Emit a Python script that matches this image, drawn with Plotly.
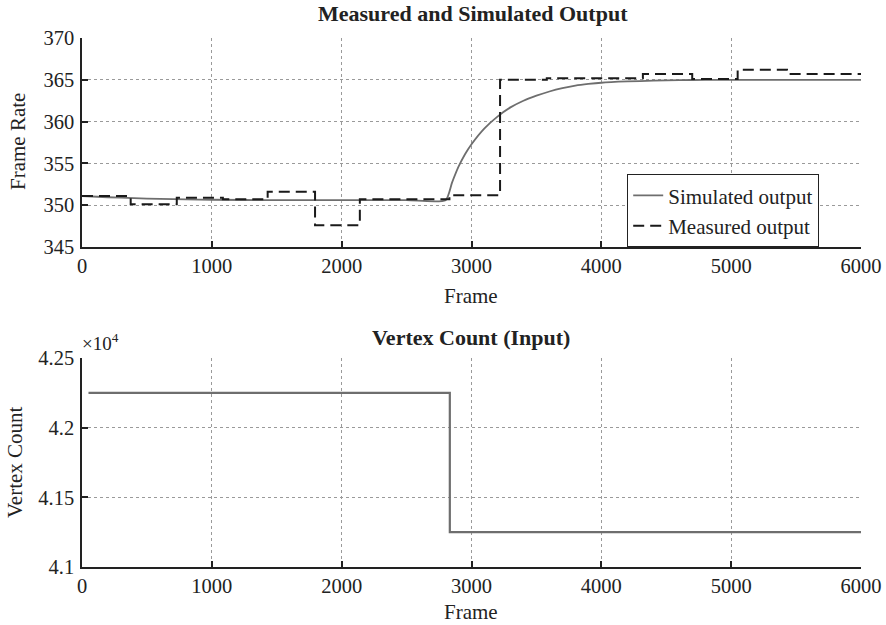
import plotly.graph_objects as go

# Measured frame rate: piecewise-constant samples (frame at which each level starts)
meas_frames = [0, 375, 730, 1085, 1430, 1795, 2140, 2830, 3220, 3580, 4320, 4700, 5050, 5430, 6000]
meas_rate = [351.1, 350.1, 350.9, 350.7, 351.6, 347.6, 350.7, 351.2, 365.0, 365.2, 365.7, 365.1, 366.2, 365.7, 365.7]

# Simulated model output
sim_frames = [0, 200, 400, 600, 800, 1000, 1500, 2000, 2500, 2800, 2850, 2900, 2950, 3000,
              3100, 3200, 3300, 3400, 3500, 3600, 3700, 3800, 3900, 4000, 4200, 4400,
              4600, 4800, 5000, 5500, 6000]
sim_rate = [351.1, 350.95, 350.85, 350.75, 350.7, 350.65, 350.6, 350.6, 350.6, 350.6, 352.7, 354.6,
            356.1, 357.3, 359.2, 360.6, 361.7, 362.5, 363.1, 363.6, 364.0, 364.3, 364.5, 364.65,
            364.8, 364.9, 364.95, 365.0, 365.0, 365.0, 365.0]

# Input: vertex count per frame
vert_frames = [50, 2833, 6000]
vert_count = [42250, 41250, 41250]

x_ticks = [0, 1000, 2000, 3000, 4000, 5000, 6000]
top_y_ticks = [345, 350, 355, 360, 365, 370]
bot_y_ticks = [41000, 41500, 42000, 42500]
bot_y_text = ["4.1", "4.15", "4.2", "4.25"]

FONT = "Liberation Serif"
W, H = 886, 625
ML, MR = 82, 25
PW = W - ML - MR


def px_x(px):
    return (px - ML) / PW


def px_y(py):
    return 1 - py / H


fig = go.Figure()
fig.add_trace(go.Scatter(x=sim_frames, y=sim_rate, mode="lines", name="Simulated output",
                         line=dict(color="#6e6e6e", width=1.8, shape="spline", smoothing=0.6),
                         xaxis="x", yaxis="y"))
fig.add_trace(go.Scatter(x=meas_frames, y=meas_rate, mode="lines", name="Measured output",
                         line=dict(color="#1a1a1a", width=2, dash="11px,6px", shape="hv"),
                         xaxis="x", yaxis="y"))
fig.add_trace(go.Scatter(x=vert_frames, y=vert_count, mode="lines", showlegend=False,
                         line=dict(color="#6e6e6e", width=2.2, shape="hv"),
                         xaxis="x2", yaxis="y2"))

axis_common = dict(
    showline=True, linecolor="#222", linewidth=1.5, mirror=False, automargin=False,
    ticks="inside", ticklen=6, tickcolor="#222", tickwidth=1.5,
    showgrid=True, gridcolor="#9a9a9a", griddash="dot", gridwidth=1,
    zeroline=False, tickfont=dict(family=FONT, size=20.5, color="#222"),
)

fig.update_layout(
    width=W, height=H,
    margin=dict(l=ML, r=MR, t=0, b=0),
    paper_bgcolor="white", plot_bgcolor="white",
    font=dict(family=FONT, color="#222"),
    xaxis=dict(domain=[0, 1], range=[0, 6000], tickvals=x_ticks, anchor="y", **axis_common),
    yaxis=dict(domain=[px_y(247), px_y(38)], range=[345, 370], tickvals=top_y_ticks, anchor="x",
               ticklabelstandoff=2, **axis_common),
    xaxis2=dict(domain=[0, 1], range=[0, 6000], tickvals=x_ticks, anchor="y2", **axis_common),
    yaxis2=dict(domain=[px_y(567), px_y(358)], range=[41000, 42500], tickvals=bot_y_ticks,
                ticktext=bot_y_text, anchor="x2", ticklabelstandoff=2, **axis_common),
    legend=dict(x=px_x(627), y=px_y(174), xanchor="left", yanchor="top",
                bgcolor="white", bordercolor="#222", borderwidth=1.2,
                font=dict(family=FONT, size=21, color="#222"),
                tracegroupgap=0, itemwidth=30),
    showlegend=True,
)

ann = [
    dict(text="<b>Measured and Simulated Output</b>", x=473, y=14, size=22),
    dict(text="Frame", x=471, y=296, size=21),
    dict(text="<b>Vertex Count (Input)</b>", x=471, y=338, size=22),
    dict(text="Frame", x=471, y=612, size=21),
]
for a in ann:
    fig.add_annotation(text=a["text"], x=px_x(a["x"]), y=px_y(a["y"]), xref="paper", yref="paper",
                       xanchor="center", yanchor="middle", showarrow=False,
                       font=dict(family=FONT, size=a["size"], color="#222"))

fig.add_annotation(text="Frame Rate", x=px_x(18), y=px_y(142), xref="paper", yref="paper",
                   textangle=-90, showarrow=False, xanchor="center", yanchor="middle",
                   font=dict(family=FONT, size=21, color="#222"))
fig.add_annotation(text="Vertex Count", x=px_x(15), y=px_y(462), xref="paper", yref="paper",
                   textangle=-90, showarrow=False, xanchor="center", yanchor="middle",
                   font=dict(family=FONT, size=21, color="#222"))
fig.add_annotation(text="×10<sup>4</sup>", x=px_x(80), y=px_y(342), xref="paper", yref="paper",
                   showarrow=False, xanchor="left", yanchor="middle",
                   font=dict(family=FONT, size=19, color="#222"))

fig.write_html("out.html")
